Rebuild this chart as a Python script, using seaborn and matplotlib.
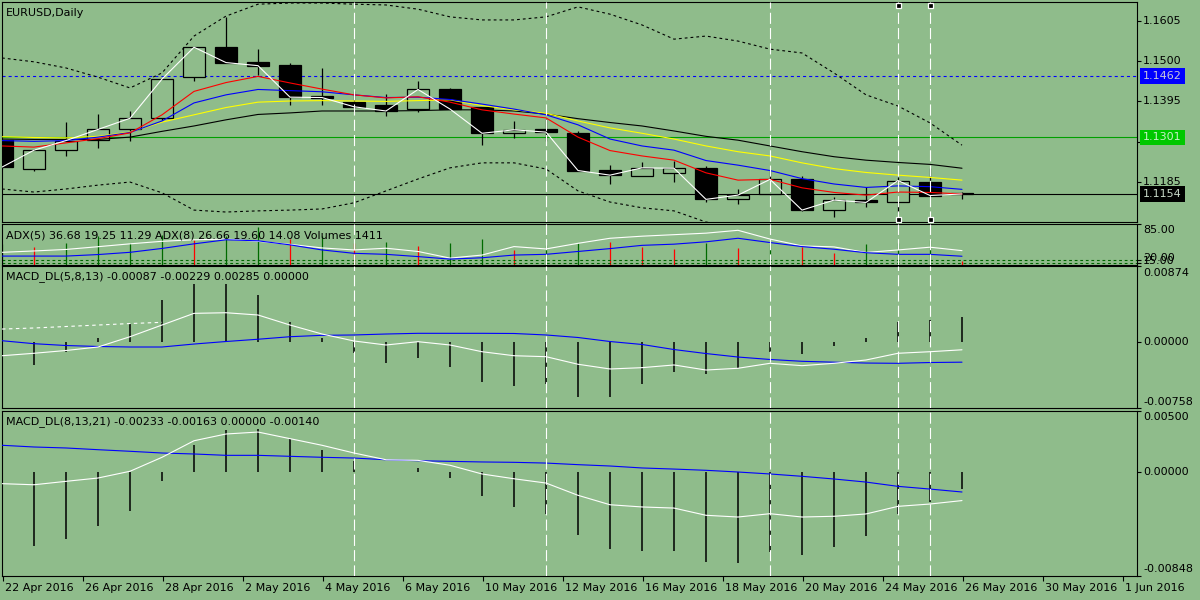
import matplotlib
matplotlib.use("Agg")
import numpy as np
import pandas as pd
import matplotlib.pyplot as plt
import matplotlib.transforms as mtransforms
import seaborn as sns

# ---------------- data ----------------
symbol_title = "EURUSD,Daily"
adx_title = "ADX(5) 36.68 19.25 11.29 ADX(8) 26.66 19.60 14.08 Volumes 1411"
macd1_title = "MACD_DL(5,8,13) -0.00087 -0.00229 0.00285 0.00000"
macd2_title = "MACD_DL(8,13,21) -0.00233 -0.00163 0.00000 -0.00140"

date_labels = ["22 Apr 2016", "26 Apr 2016", "28 Apr 2016", "2 May 2016", "4 May 2016",
               "6 May 2016", "10 May 2016", "12 May 2016", "16 May 2016", "18 May 2016",
               "20 May 2016", "24 May 2016", "26 May 2016", "30 May 2016", "1 Jun 2016"]

opens = [1.1295, 1.1218, 1.1268, 1.1295, 1.1322, 1.1351, 1.1459, 1.1536, 1.1498, 1.1490, 1.1408,
         1.1394, 1.1385, 1.1374, 1.1426, 1.1380, 1.1312, 1.1322, 1.1312, 1.1216, 1.1202, 1.1208,
         1.1221, 1.1140, 1.1154, 1.1193, 1.1112, 1.1138, 1.1132, 1.1186, 1.1157]
highs = [1.1298, 1.1270, 1.1341, 1.1361, 1.1370, 1.1455, 1.1537, 1.1615, 1.1531, 1.1494, 1.1481,
         1.1422, 1.1413, 1.1448, 1.1431, 1.1381, 1.1344, 1.1348, 1.1318, 1.1229, 1.1236, 1.1240,
         1.1228, 1.1167, 1.1216, 1.1202, 1.1147, 1.1173, 1.1199, 1.1221, 1.1158]
lows = [1.1220, 1.1215, 1.1254, 1.1273, 1.1293, 1.1347, 1.1448, 1.1494, 1.1464, 1.1386, 1.1386,
        1.1378, 1.1358, 1.1368, 1.1373, 1.1282, 1.1299, 1.1293, 1.1213, 1.1179, 1.1200, 1.1186,
        1.1132, 1.1127, 1.1153, 1.1110, 1.1095, 1.1121, 1.1108, 1.1148, 1.1140]
closes = [1.1224, 1.1268, 1.1293, 1.1322, 1.1351, 1.1453, 1.1536, 1.1496, 1.1488, 1.1406, 1.1405,
          1.1381, 1.1370, 1.1426, 1.1375, 1.1312, 1.1321, 1.1315, 1.1215, 1.1203, 1.1222, 1.1221,
          1.1140, 1.1151, 1.1192, 1.1112, 1.1138, 1.1132, 1.1189, 1.1150, 1.1154]

ma_red = [1.1279, 1.1276, 1.1287, 1.1298, 1.1313, 1.1360, 1.1421, 1.1444, 1.1460, 1.1443, 1.1427,
          1.1412, 1.1404, 1.1407, 1.1393, 1.1373, 1.1362, 1.1352, 1.1302, 1.1267, 1.1253, 1.1242,
          1.1209, 1.1190, 1.1192, 1.1170, 1.1158, 1.1151, 1.1159, 1.1158, 1.1154]
ma_blue = [1.1293, 1.1291, 1.1293, 1.1302, 1.1314, 1.1344, 1.1391, 1.1412, 1.1426, 1.1423, 1.1420,
           1.1412, 1.1405, 1.1406, 1.1400, 1.1388, 1.1375, 1.1360, 1.1334, 1.1297, 1.1279, 1.1268,
           1.1241, 1.1229, 1.1215, 1.1194, 1.1180, 1.1171, 1.1175, 1.1173, 1.1166]
ma_yellow = [1.1303, 1.1301, 1.1300, 1.1304, 1.1315, 1.1341, 1.1360, 1.1379, 1.1393, 1.1396, 1.1397,
             1.1396, 1.1395, 1.1397, 1.1399, 1.1384, 1.1373, 1.1364, 1.1344, 1.1326, 1.1312, 1.1297,
             1.1279, 1.1264, 1.1253, 1.1235, 1.1220, 1.1210, 1.1203, 1.1197, 1.1190]
ma_black = [1.1297, 1.1296, 1.1296, 1.1296, 1.1302, 1.1317, 1.1331, 1.1347, 1.1361, 1.1365, 1.1370,
            1.1370, 1.1370, 1.1371, 1.1373, 1.1373, 1.1370, 1.1362, 1.1350, 1.1340, 1.1331, 1.1318,
            1.1304, 1.1294, 1.1279, 1.1264, 1.1251, 1.1242, 1.1236, 1.1231, 1.1221]
bb_upper = [1.1508, 1.1498, 1.1482, 1.1458, 1.1430, 1.1469, 1.1565, 1.1617, 1.1648, 1.1651, 1.1651,
            1.1648, 1.1646, 1.1635, 1.1615, 1.1607, 1.1607, 1.1615, 1.1641, 1.1622, 1.1594, 1.1557,
            1.1565, 1.1552, 1.1531, 1.1521, 1.1469, 1.1412, 1.1383, 1.1339, 1.1281]
bb_lower = [1.1167, 1.1159, 1.1167, 1.1177, 1.1185, 1.1157, 1.1112, 1.1107, 1.1110, 1.1112, 1.1115,
            1.1131, 1.1162, 1.1193, 1.1222, 1.1235, 1.1235, 1.1219, 1.1162, 1.1133, 1.1118, 1.1110,
            1.1081, 1.1065, 1.1055, 1.1039, 1.1034, 1.1029, 1.1024, 1.1021, 1.1019]

level_blue = 1.1462
level_green = 1.1301
last_price = 1.1154
price_ticks = [1.1605, 1.1500, 1.1395, 1.1290, 1.1185]
vline_bars = [11, 17, 24, 28, 29]
selected_bars = [28, 29]

adx5 = [33.7, 36.1, 38.8, 43.7, 48.8, 53.3, 56.0, 57.3, 53.3, 47.9, 41.5, 37.9, 41.0, 35.2, 23.4, 28.8,
        43.9, 39.7, 49.7, 58.7, 62.4, 65.1, 67.8, 72.9, 57.3, 45.1, 43.3, 33.4, 37.9, 42.8, 36.7]
adx8 = [27.0, 27.0, 27.0, 29.7, 33.7, 40.6, 48.8, 56.0, 54.2, 47.0, 37.9, 31.9, 30.1, 26.1, 21.6, 24.0,
        28.8, 30.1, 35.2, 40.3, 46.1, 48.2, 52.4, 58.7, 51.1, 43.9, 39.2, 33.0, 30.1, 30.1, 26.7]
volumes = [8500, 7530, 9250, 11810, 8990, 12540, 10100, 12110, 15840, 10700, 11810, 9250, 9670, 7960,
           9250, 10830, 6120, 8260, 9250, 9670, 7530, 6550, 9250, 7100, 8690, 7280, 4710, 8690, 9250,
           10400, 1411]
volume_up = [1, 0, 1, 1, 1, 1, 0, 1, 1, 0, 1, 0, 1, 0, 1, 1, 0, 1, 1, 0, 0, 0, 1, 0, 1, 0, 0, 1, 1, 1, 0]
adx_levels = [20, 15]
adx_labels = [85.0, 20.0, 15.0]

macd1_main = [-0.00155, -0.00127, -0.00095, -0.00055, 0.00063, 0.00197, 0.00331, 0.00338, 0.00312,
              0.00197, 0.00094, 0.00014, -0.00032, 0.00006, -0.00032, -0.00109, -0.00155, -0.00166,
              -0.00253, -0.00307, -0.00292, -0.00261, -0.00319, -0.00299, -0.00242, -0.00269,
              -0.00242, -0.00204, -0.00127, -0.00109, -0.00087]
macd1_signal = [0.00017, -0.00017, -0.00038, -0.00049, -0.00055, -0.00055, -0.00021, 0.00008, 0.00034,
                0.00063, 0.00079, 0.00083, 0.00094, 0.00102, 0.00102, 0.00102, 0.00100, 0.00083,
                0.00054, 0.00008, -0.00026, -0.00084, -0.00130, -0.00170, -0.00198, -0.00219,
                -0.00229, -0.00239, -0.00242, -0.00233, -0.00229]
macd1_hist = [-0.00100, -0.00261, -0.00109, 0.00045, 0.00209, 0.00484, 0.00664, 0.00664, 0.00541,
              0.00228, 0.00052, -0.00120, -0.00235, -0.00185, -0.00281, -0.00460, -0.00499, -0.00483,
              -0.00625, -0.00625, -0.00483, -0.00338, -0.00368, -0.00292, -0.00109, -0.00135,
              -0.00044, 0.00052, 0.00235, 0.00255, 0.00285]
macd1_extra = [0.00151, 0.00163, 0.00180, 0.00197, 0.00214, 0.00228] + [np.nan] * 25
macd1_range = (-0.00758, 0.00874)

macd2_main = [-0.00095, -0.00104, -0.00076, -0.00049, 0.00006, 0.00120, 0.00255, 0.00310, 0.00326,
              0.00272, 0.00218, 0.00155, 0.00100, 0.00095, 0.00055, -0.00016, -0.00055, -0.00090,
              -0.00190, -0.00267, -0.00285, -0.00294, -0.00353, -0.00367, -0.00340, -0.00367,
              -0.00361, -0.00342, -0.00280, -0.00261, -0.00233]
macd2_signal = [0.00218, 0.00204, 0.00196, 0.00182, 0.00169, 0.00155, 0.00147, 0.00136, 0.00136,
                0.00128, 0.00120, 0.00114, 0.00100, 0.00092, 0.00087, 0.00082, 0.00079, 0.00073,
                0.00060, 0.00049, 0.00033, 0.00024, 0.00014, 0.00000, -0.00016, -0.00035,
                -0.00057, -0.00082, -0.00117, -0.00139, -0.00163]
macd2_hist = [-0.00500, -0.00606, -0.00544, -0.00443, -0.00320, -0.00071, 0.00218, 0.00340, 0.00353,
              0.00269, 0.00177, 0.00087, 0.00000, 0.00033, -0.00049, -0.00193, -0.00283, -0.00340,
              -0.00511, -0.00625, -0.00642, -0.00642, -0.00734, -0.00742, -0.00652, -0.00674,
              -0.00612, -0.00524, -0.00342, -0.00245, -0.00140]
macd2_range = (-0.00848, 0.00500)

# ---------------- style ----------------
BG = "#8FBC8B"
sns.set_theme(style="white", rc={"axes.facecolor": BG, "figure.facecolor": BG,
                                 "axes.edgecolor": "black", "axes.linewidth": 0.8})
plt.rcParams["font.family"] = ["DejaVu Sans"]
plt.rcParams["lines.scale_dashes"] = False
FS = 8

W, H = 1200, 600
fig = plt.figure(figsize=(12, 6), dpi=100)


def px_rect(left, top, right, bottom):
    return [left / W, 1 - bottom / H, (right - left) / W, (bottom - top) / H]


ax_main = fig.add_axes(px_rect(2, 2, 1137, 222))
ax_adx = fig.add_axes(px_rect(2, 223.5, 1137, 264.5))
ax_m1 = fig.add_axes(px_rect(2, 266, 1137, 408.3))
ax_m2 = fig.add_axes(px_rect(2, 410.7, 1137, 576))
axes = [ax_main, ax_adx, ax_m1, ax_m2]

n = len(closes)
idx = np.arange(n)
XMAX = (1137 - 2) / 32.0
PT = 0.72  # points per pixel

for ax in axes:
    ax.set_xlim(0, XMAX)
    ax.set_xticks([])
    ax.set_yticks([])
    for s in ax.spines.values():
        s.set_color("black")
        s.set_linewidth(0.8)


def line(ax, y, color, lw=0.8, ls="-", z=4):
    df = pd.DataFrame({"x": idx, "y": y})
    sns.lineplot(data=df, x="x", y="y", ax=ax, color=color, linewidth=lw,
                 linestyle=ls, zorder=z, estimator=None, sort=False)
    ax.set_xlabel("")
    ax.set_ylabel("")


def right_label(ax, y, text, dy_px=0.0, box=None, tcolor="black", tick=True):
    tr = mtransforms.blended_transform_factory(ax.transAxes, ax.transData)
    if tick:
        ax.plot([1, 1 + 4 / 1135], [y, y], transform=tr, color="black", lw=0.8,
                clip_on=False, solid_capstyle="butt")
    kw = {}
    if box is not None:
        kw["bbox"] = dict(boxstyle="square,pad=0.26", fc=box, ec="none")
    ax.annotate(text, xy=(1, y), xycoords=tr, xytext=(6 * PT, -dy_px * PT),
                textcoords="offset points", ha="left", va="center", fontsize=FS,
                color=tcolor, annotation_clip=False, **kw)


def vdash(ax):
    for b in vline_bars:
        ax.axvline(b, color="white", lw=0.8, linestyle=(0, (8, 3)), zorder=6)


# ---------------- main panel ----------------
pmin = 1.16589 - 0.0002603 * 222
pmax = 1.16589 - 0.0002603 * 2
ax_main.set_ylim(pmin, pmax)

ax_main.axhline(level_blue, color="#0000FF", lw=0.8, linestyle=(0, (2.2, 2.2)), zorder=1)
ax_main.axhline(level_green, color="#00A000", lw=0.8, zorder=1)
ax_main.axhline(last_price, color="black", lw=0.8, zorder=1)

o = np.array(opens); c = np.array(closes)
ax_main.vlines(idx, lows, highs, color="black", lw=0.9, zorder=2)
bull = c >= o
body_bottom = np.minimum(o, c)
body_h = np.maximum(np.abs(c - o), 0.00003)
ax_main.bar(idx[bull], body_h[bull], bottom=body_bottom[bull], width=0.69,
            color=BG, edgecolor="black", linewidth=0.9, zorder=3)
ax_main.bar(idx[~bull], body_h[~bull], bottom=body_bottom[~bull], width=0.69,
            color="black", edgecolor="black", linewidth=0.9, zorder=3)

line(ax_main, bb_upper, "black", lw=0.8, ls=(0, (2, 2.2)))
line(ax_main, bb_lower, "black", lw=0.8, ls=(0, (2, 2.2)))
line(ax_main, ma_black, "black")
line(ax_main, ma_yellow, "#FFFF00")
line(ax_main, ma_blue, "#0000FF")
line(ax_main, ma_red, "#FF0000")
line(ax_main, closes, "white")
ax_main.set_ylim(pmin, pmax)
vdash(ax_main)
for b in selected_bars:
    ax_main.plot([b, b], [pmax - 0.0002603 * 3.3, pmin + 0.0002603 * 2.7], ls="none",
                 marker="s", markersize=3.6, markerfacecolor="black",
                 markeredgecolor="white", markeredgewidth=0.9, zorder=8, clip_on=False)

for p in price_ticks:
    right_label(ax_main, p, f"{p:.4f}")
right_label(ax_main, level_blue, f"{level_blue:.4f}", box="#0000FF", tcolor="#C8C8D8", tick=False)
right_label(ax_main, level_green, f"{level_green:.4f}", box="#00C800", tcolor="#C8F0C8", tick=False)
right_label(ax_main, last_price, f"{last_price:.4f}", box="black", tcolor="#C8D8C8", tick=False)
ax_main.text(4 / 1135, 1 - 11 / 220, symbol_title, transform=ax_main.transAxes,
             ha="left", va="center", fontsize=FS, color="black")

# ---------------- ADX + volumes ----------------
ax_adx.set_ylim(12, 85)
ax_vol = ax_adx.twinx()
ax_vol.set_ylim(0, 17250)
ax_vol.set_yticks([])
for s in ax_vol.spines.values():
    s.set_visible(False)
vu = np.array(volume_up, dtype=bool)
vols = np.array(volumes)
ax_vol.vlines(idx[vu], 0, vols[vu], color="#006A00", lw=0.9, zorder=2)
ax_vol.vlines(idx[~vu], 0, vols[~vu], color="#FF0000", lw=0.9, zorder=2)
ax_vol.set_xlim(0, XMAX)
for lv in adx_levels:
    ax_adx.axhline(lv, color="#006400", lw=0.8, linestyle=(0, (2, 2)), zorder=1)
line(ax_adx, adx5, "white", z=5)
line(ax_adx, adx8, "#0000FF", z=5)
ax_adx.set_ylim(12, 85)
ax_adx.set_zorder(ax_vol.get_zorder() + 1)
ax_adx.patch.set_visible(False)
ax_vol.patch.set_visible(True)
ax_vol.patch.set_facecolor(BG)
vdash(ax_adx)
right_label(ax_adx, adx_labels[0], f"{adx_labels[0]:.2f}", dy_px=6)
right_label(ax_adx, adx_labels[1], f"{adx_labels[1]:.2f}", dy_px=-2.5)
right_label(ax_adx, adx_labels[2], f"{adx_labels[2]:.2f}", dy_px=-1.5)
ax_adx.text(4 / 1135, 1 - 11.5 / 41, adx_title, transform=ax_adx.transAxes,
            ha="left", va="center", fontsize=FS, color="black", zorder=9)


# ---------------- MACD panels ----------------
def macd_panel(ax, main, signal, hist, rng, ttl, extra=None):
    ax.set_ylim(*rng)
    ax.vlines(idx, 0, hist, color="black", lw=1.1, zorder=2)
    line(ax, signal, "#0000FF")
    line(ax, main, "white")
    if extra is not None:
        df = pd.DataFrame({"x": idx, "y": extra}).dropna()
        sns.lineplot(data=df, x="x", y="y", ax=ax, color="white", linewidth=0.8,
                     linestyle=(0, (2.5, 2.5)), zorder=4, estimator=None)
        ax.set_xlabel(""); ax.set_ylabel("")
    ax.set_ylim(*rng)
    vdash(ax)
    hpx = ax.bbox.height
    ax.text(4 / 1135, 1 - 11 / hpx, ttl, transform=ax.transAxes,
            ha="left", va="center", fontsize=FS, color="black")
    right_label(ax, rng[1], f"{rng[1]:.5f}", dy_px=6.5)
    right_label(ax, 0.0, "0.00000")
    right_label(ax, rng[0], f"{rng[0]:.5f}", dy_px=-6.5)


macd_panel(ax_m1, macd1_main, macd1_signal, macd1_hist, macd1_range, macd1_title, macd1_extra)
macd_panel(ax_m2, macd2_main, macd2_signal, macd2_hist, macd2_range, macd2_title)

# ---------------- time axis ----------------
trx = mtransforms.blended_transform_factory(ax_m2.transData, ax_m2.transAxes)
for k, lab in enumerate(date_labels):
    xpos = 2.5 * k + 0.03
    ax_m2.plot([xpos, xpos], [0, -5 / 165.3], transform=trx, color="black", lw=0.8,
               clip_on=False, solid_capstyle="butt")
    ax_m2.annotate(lab, xy=(xpos, 0), xycoords=trx, xytext=(2 * PT, -12 * PT),
                   textcoords="offset points", ha="left", va="center", fontsize=FS,
                   color="black", annotation_clip=False)

fig.savefig("out.png", dpi=100, facecolor=BG)
